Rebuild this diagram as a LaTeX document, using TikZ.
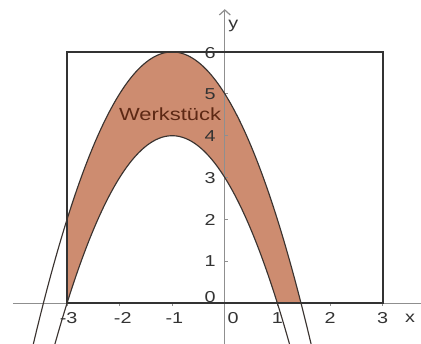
\documentclass[tikz,border=0pt]{standalone}
\usepackage{fontspec}
\setmainfont{Liberation Sans}
\usepackage{graphicx}
\usetikzlibrary{arrows.meta}
\definecolor{PieceFill}{HTML}{CD8C70}
\definecolor{PieceText}{HTML}{5C2814}
\definecolor{AxisGray}{HTML}{8F8F8F}
\definecolor{CurveDark}{HTML}{3A3330}
\definecolor{TickText}{HTML}{333333}
\tikzset{
  axis/.style={draw=AxisGray,line width=0.7pt},
  curve/.style={draw=CurveDark,line width=0.65pt},
  frame/.style={draw=black!80,line width=1.2pt},
  piece/.style={fill=PieceFill,draw=none},
  num/.style={font=\fontsize{9}{9}\selectfont,text=TickText,inner sep=0pt},
  ttl/.style={font=\fontsize{10}{10}\selectfont,text=PieceText,inner sep=0pt},
}
\newcommand{\wide}[1]{\scalebox{1.25}[1]{#1}}

\begin{document}
\begin{tikzpicture}[x=1.052cm,y=0.838cm]
\useasboundingbox (-4.274,-0.971) rectangle (3.730,7.239);

% region between the two parabolas
\fill[piece] plot[domain=-3:1.449,smooth,samples=80] (\x,{6-(\x+1)*(\x+1)})
  -- (1,0) -- plot[domain=1:-3,smooth,samples=80] (\x,{4-(\x+1)*(\x+1)}) -- cycle;

\draw[axis] (-4.03,0) -- (3.73,0);
\draw[axis,-{Straight Barb[length=1mm,width=2.2mm]}] (0,-0.971) -- (0,7.02);
\foreach \k in {-3,...,3} \draw[axis,line width=0.4pt] (\k,0) -- (\k,-0.07);
\foreach \k in {1,...,6} \draw[axis,line width=0.4pt] (0,\k) -- (0.06,\k);

\draw[frame] (-3,0) rectangle (3,6);
\draw[curve] plot[domain=-3.64:1.64,smooth,samples=80] (\x,{6-(\x+1)*(\x+1)});
\draw[curve] plot[domain=-3.23:1.23,smooth,samples=80] (\x,{4-(\x+1)*(\x+1)});

\node[ttl] (piece) at (-1.04,4.52) {\wide{Werkstück}};

\node[num] (xm3) at (-2.97,-0.35) {\wide{-3}};
\node[num] (xm2) at (-1.94,-0.35) {\wide{-2}};
\node[num] (xm1) at (-0.96,-0.35) {\wide{-1}};
\node[num] (x0) at (0.16,-0.35) {\wide{0}};
\node[num] (x1) at (1.0,-0.35) {\wide{1}};
\node[num] (x2) at (2.0,-0.35) {\wide{2}};
\node[num] (x3) at (3.0,-0.35) {\wide{3}};
\node[num] (xlab) at (3.52,-0.35) {\wide{x}};

\node[num] (y0) at (-0.28,0.15) {\wide{0}};
\node[num] (y1) at (-0.28,1.0) {\wide{1}};
\node[num] (y2) at (-0.28,2.0) {\wide{2}};
\node[num] (y3) at (-0.28,3.0) {\wide{3}};
\node[num] (y4) at (-0.28,4.0) {\wide{4}};
\node[num] (y5) at (-0.28,5.0) {\wide{5}};
\node[num] (y6) at (-0.28,5.97) {\wide{6}};
\node[num] (ylab) at (0.16,6.62) {\wide{y}};
\end{tikzpicture}
\end{document}
